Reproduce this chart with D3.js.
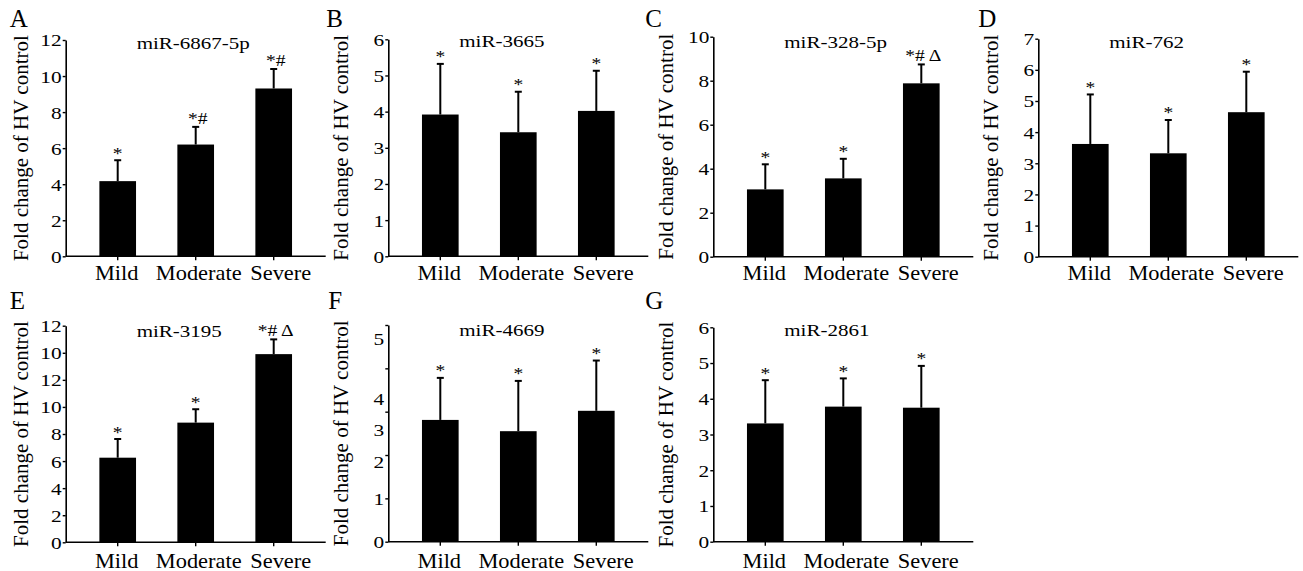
<!DOCTYPE html>
<html><head><meta charset="utf-8">
<script src="https://cdn.jsdelivr.net/npm/d3@7"></script>
<style>
body{margin:0;background:#fff}
text{font-family:"Liberation Serif","Times New Roman",serif !important;fill:#000}
</style>
</head><body><svg id="c" width="1303" height="571"></svg>
<script>
// ---------- data ----------
const categories = ["Mild", "Moderate", "Severe"];
const panelLetters = ["A", "B", "C", "D", "E", "F", "G"];
const titles = ["miR-6867-5p", "miR-3665", "miR-328-5p", "miR-762", "miR-3195", "miR-4669", "miR-2861"];
const yLabel = "Fold change of HV control";

const meansA = [4.17, 6.20, 9.31], sdA = [1.16, 0.98, 1.08];
const meansB = [3.92, 3.43, 4.02], sdB = [1.40, 1.12, 1.11];
const meansC = [3.06, 3.56, 7.88], sdC = [1.14, 0.89, 0.86];
const meansD = [3.62, 3.32, 4.64], sdD = [1.59, 1.07, 1.30];
const meansE = [6.25, 8.84, 13.90], sdE = [1.38, 0.99, 1.09];
const meansF = [2.81, 2.55, 3.02], sdF = [0.97, 1.16, 1.16];
const meansG = [3.31, 3.78, 3.75], sdG = [1.21, 0.79, 1.17];

const signsA = ["*", "*#", "*#"];
const signsB = ["*", "*", "*"];
const signsC = ["*", "*", "*# \u0394"];
const signsD = ["*", "*", "*"];
const signsE = ["*", "*", "*# \u0394"];
const signsF = ["*", "*", "*"];
const signsG = ["*", "*", "*"];

const yMaxes = [12, 6, 10, 7, 16, 5, 6];
const ticksA = [0, 2, 4, 6, 8, 10, 12];
const ticksB = [0, 1, 2, 3, 4, 5, 6];
const ticksC = [0, 2, 4, 6, 8, 10];
const ticksD = [0, 1, 2, 3, 4, 5, 6, 7];
const ticksE = [0, 2, 4, 6, 8, 10, 12, 14, 16];
const tickLabelsE = ["0", "2", "4", "6", "8", "10", "12", "10", "12"];
const ticksF = [0, 1, 2, 3, 4, 5];
const tickLabelsF = ["0", "1", "2", "3", "4", "5"];
const tickLabelAtF = [0, 0.98, 1.84, 2.57, 3.29, 4.68];
const ticksG = [0, 1, 2, 3, 4, 5, 6];

const panels = [
  {means: meansA, sd: sdA, signs: signsA, ticks: ticksA},
  {means: meansB, sd: sdB, signs: signsB, ticks: ticksB},
  {means: meansC, sd: sdC, signs: signsC, ticks: ticksC},
  {means: meansD, sd: sdD, signs: signsD, ticks: ticksD},
  {means: meansE, sd: sdE, signs: signsE, ticks: ticksE, labels: tickLabelsE},
  {means: meansF, sd: sdF, signs: signsF, ticks: ticksF, labels: tickLabelsF, labelAt: tickLabelAtF},
  {means: meansG, sd: sdG, signs: signsG, ticks: ticksG}
];

// ---------- layout ----------
const layout = [
  {left: 65.7,   y0: 256.3, top: 40.0, titleY: 49,   catY: 280,   letterX: -56, letterY: 27,  ylabX: -37.5},
  {left: 388.3,  y0: 256.3, top: 39.3, titleY: 47,   catY: 280,   letterX: -62, letterY: 27,  ylabX: -40},
  {left: 713.3,  y0: 256.7, top: 36.7, titleY: 48,   catY: 280,   letterX: -68, letterY: 27,  ylabX: -40},
  {left: 1038.3, y0: 256.7, top: 38.7, titleY: 48,   catY: 280,   letterX: -60, letterY: 27,  ylabX: -40},
  {left: 65.7,   y0: 542.3, top: 325.7, titleY: 336.5, catY: 567.5, letterX: -56, letterY: 309, ylabX: -37.5},
  {left: 388.3,  y0: 541.7, top: 325.0, titleY: 335.5, catY: 567.5, letterX: -60, letterY: 309, ylabX: -40},
  {left: 713.3,  y0: 541.7, top: 327.3, titleY: 335.5, catY: 567.5, letterX: -68, letterY: 309, ylabX: -40}
];
const plotW = 260;
const FONT = '"Liberation Serif", "Times New Roman", serif';

const svg = d3.select("#c");

panels.forEach((p, i) => {
  const L = layout[i];
  const g = svg.append("g").attr("transform", `translate(${L.left},0)`);
  const y = d3.scaleLinear().domain([0, yMaxes[i]]).range([L.y0, L.top]);
  const x = d3.scaleBand().domain(categories).range([13, 247]).paddingInner(0.53).paddingOuter(0.265);
  const xl = d3.scalePoint().domain(categories).range([51, 215]);
  const cx = c => x(c) + x.bandwidth() / 2;

  // bars
  g.selectAll("rect.bar").data(categories).join("rect")
    .attr("x", c => x(c)).attr("width", x.bandwidth())
    .attr("y", (c, k) => y(p.means[k]))
    .attr("height", (c, k) => y(0) - y(p.means[k]))
    .attr("fill", "#000");

  // error bars (upper only)
  g.selectAll("line.err").data(categories).join("line")
    .attr("x1", cx).attr("x2", cx)
    .attr("y1", (c, k) => y(p.means[k]))
    .attr("y2", (c, k) => y(p.means[k] + p.sd[k]))
    .attr("stroke", "#000").attr("stroke-width", 2);
  g.selectAll("line.cap").data(categories).join("line")
    .attr("x1", c => cx(c) - 3.5).attr("x2", c => cx(c) + 3.5)
    .attr("y1", (c, k) => y(p.means[k] + p.sd[k]))
    .attr("y2", (c, k) => y(p.means[k] + p.sd[k]))
    .attr("stroke", "#000").attr("stroke-width", 2);

  // significance signs
  g.selectAll("text.sig").data(categories).join("text")
    .attr("transform", (c, k) => `translate(${cx(c) + (p.signs[k].length > 1 ? 2 : 0)},${y(p.means[k] + p.sd[k]) - (p.signs[k].length > 1 ? 3 : 1.5)}) scale(1.15,1)`)
    .attr("text-anchor", "middle")
    .style("font-family", FONT).style("font-size", "17px")
    .text((c, k) => p.signs[k]);

  // y axis
  const sx = 1.22;
  const yAxis = d3.axisLeft(y).tickValues(p.ticks).tickSize(3).tickSizeOuter(0)
    .tickFormat((d, k) => p.labelAt ? "" : (p.labels ? p.labels[k] : d));
  const ya = g.append("g").call(yAxis).attr("font-family", FONT);
  ya.select(".domain").attr("stroke-width", 1.6);
  ya.selectAll(".tick line").attr("stroke-width", 1.4);
  ya.selectAll(".tick text").style("font-family", FONT).style("font-size", "17.5px")
    .attr("x", -4 / sx).attr("transform", `scale(${sx},1)`).attr("dy", "0.34em");
  if (p.labelAt) {
    g.selectAll("text.flab").data(p.labels).join("text")
      .attr("transform", (d, k) => `translate(-4,${y(p.labelAt[k])}) scale(${sx},1)`)
      .attr("text-anchor", "end").attr("dy", "0.34em")
      .style("font-family", FONT).style("font-size", "17.5px").text(d => d);
  }

  // x axis
  const xa = g.append("g").attr("transform", `translate(0,${L.y0})`)
    .call(d3.axisBottom(x).tickSize(4).tickSizeOuter(0).tickFormat(""));
  xa.select(".domain").remove();
  xa.selectAll(".tick line").attr("stroke-width", 1.4);
  g.append("line").attr("x1", 0).attr("x2", plotW).attr("y1", L.y0).attr("y2", L.y0)
    .attr("stroke", "#000").attr("stroke-width", 1.6);

  // category labels
  g.selectAll("text.cat").data(categories).join("text")
    .attr("transform", c => `translate(${xl(c)},${L.catY}) scale(1.12,1)`)
    .attr("text-anchor", "middle")
    .style("font-family", FONT).style("font-size", "20px").text(c => c);

  // title
  g.append("text").attr("transform", `translate(71,${L.titleY}) scale(1.2,1)`)
    .style("font-family", FONT).style("font-size", "17.5px").text(titles[i]);

  // y label
  g.append("text")
    .attr("transform", `translate(${L.ylabX},${(L.y0 + L.top) / 2}) rotate(-90)`)
    .attr("text-anchor", "middle")
    .style("font-family", FONT).style("font-size", "21px").text(yLabel);

  // panel letter
  g.append("text").attr("x", L.letterX).attr("y", L.letterY)
    .style("font-family", FONT).style("font-size", "25px").text(panelLetters[i]);
});
</script>
</body></html>
